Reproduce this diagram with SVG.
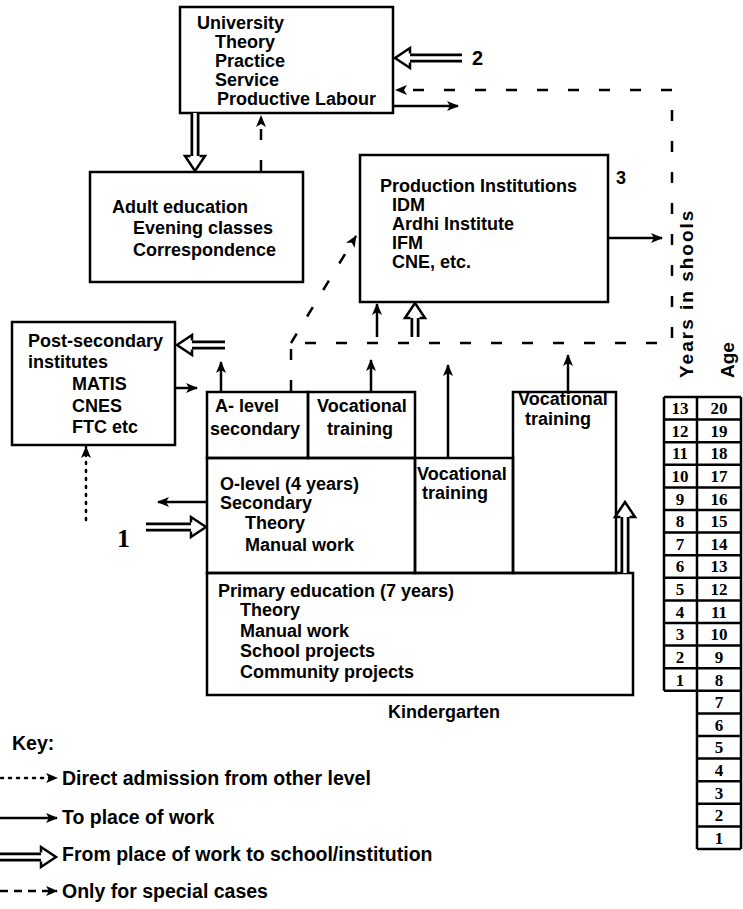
<svg xmlns="http://www.w3.org/2000/svg" xmlns:xlink="http://www.w3.org/1999/xlink" width="743" height="909" viewBox="0 0 743 909">
<style>
.box{fill:none;stroke:#000;stroke-width:2.5}
.t{font-family:"Liberation Sans",Arial,sans-serif;font-weight:bold;font-size:18px;fill:#000}
.k{font-size:19.5px}
.num{font-family:"Liberation Serif","Times New Roman",serif;font-weight:bold;font-size:17px;text-anchor:middle;fill:#000}
.ln{fill:none;stroke:#000;stroke-width:2.5}
.ar{marker-end:url(#ah)}
.dash{stroke-dasharray:11 20}
.dot{stroke-dasharray:2 6;stroke-linecap:round}
.dbo{fill:none;stroke:#000;stroke-width:9}
.dbi{fill:none;stroke:#fff;stroke-width:3.5}
.dh{fill:#fff;stroke:#000;stroke-width:2.5;stroke-linejoin:miter}
.tb{fill:none;stroke:#000;stroke-width:2.5}
</style>
<defs>
<marker id="ah" viewBox="0 0 12 10" refX="11" refY="5" markerWidth="12" markerHeight="10" markerUnits="userSpaceOnUse" orient="auto">
<path d="M0,0 L12,5 L0,10 L3,5 z" fill="#000"/>
</marker>
<path id="dh" class="dh" d="M0,-4.5 L0,-10 L15,0 L0,10 L0,4.5"/>
</defs>
<rect width="743" height="909" fill="#fff"/>

<g id="university">
<rect class="box" x="180" y="7" width="213" height="106"/>
<text class="t" x="197" y="29">University</text>
<text class="t" x="215" y="48">Theory</text>
<text class="t" x="215" y="67">Practice</text>
<text class="t" x="215" y="86">Service</text>
<text class="t" x="217" y="105">Productive Labour</text>
</g>

<g id="adult-education">
<rect class="box" x="90" y="172" width="213" height="110"/>
<text class="t" x="112" y="213">Adult education</text>
<text class="t" x="133" y="234">Evening classes</text>
<text class="t" x="133" y="256">Correspondence</text>
</g>

<g id="production-institutions">
<rect class="box" x="360" y="155" width="248" height="147"/>
<text class="t" x="380" y="192">Production Institutions</text>
<text class="t" x="392" y="211">IDM</text>
<text class="t" x="392" y="230">Ardhi Institute</text>
<text class="t" x="392" y="249">IFM</text>
<text class="t" x="392" y="268">CNE, etc.</text>
</g>

<g id="post-secondary">
<rect class="box" x="12" y="322" width="163" height="123"/>
<text class="t" x="28" y="347">Post-secondary</text>
<text class="t" x="28" y="368">institutes</text>
<text class="t" x="72" y="390">MATIS</text>
<text class="t" x="72" y="412">CNES</text>
<text class="t" x="72" y="433">FTC  etc</text>
</g>

<g id="a-level">
<rect class="box" x="207" y="392" width="101" height="66"/>
<text class="t" x="215" y="412">A- level</text>
<text class="t" x="210" y="435">secondary</text>
</g>
<g id="vocational-1">
<rect class="box" x="308" y="392" width="107" height="66"/>
<text class="t" x="317" y="412">Vocational</text>
<text class="t" x="327" y="435">training</text>
</g>
<g id="o-level">
<rect class="box" x="207" y="458" width="208" height="115"/>
<text class="t" x="220" y="490">O-level (4 years)</text>
<text class="t" x="220" y="509">Secondary</text>
<text class="t" x="245" y="529">Theory</text>
<text class="t" x="245" y="551">Manual work</text>
</g>
<g id="vocational-2">
<rect class="box" x="415" y="458" width="98" height="115"/>
<text class="t" x="417" y="480">Vocational</text>
<text class="t" x="422" y="499">training</text>
</g>
<g id="vocational-3">
<rect class="box" x="513" y="392" width="103" height="181"/>
<text class="t" x="518" y="405">Vocational</text>
<text class="t" x="525" y="425">training</text>
</g>
<g id="primary">
<rect class="box" x="207" y="573" width="426" height="122"/>
<text class="t" x="218" y="597">Primary education (7 years)</text>
<text class="t" x="240" y="616">Theory</text>
<text class="t" x="240" y="637">Manual work</text>
<text class="t" x="240" y="657">School projects</text>
<text class="t" x="240" y="678">Community projects</text>
</g>
<g id="kindergarten">
<text class="t" x="444" y="718" text-anchor="middle">Kindergarten</text>
</g>

<g id="labels">
<text class="t" x="472" y="65" style="font-size:20px">2</text>
<text class="t" x="616" y="184">3</text>
<text x="117" y="547" style="font-family:'Liberation Serif','Times New Roman',serif;font-weight:bold;font-size:26px">1</text>
</g>

<g id="connectors">
<!-- solid: to place of work -->
<path class="ln ar" d="M394,106 H458"/>
<path class="ln ar" d="M609,238 H662"/>
<path class="ln ar" d="M377,337 V304"/>
<path class="ln ar" d="M221,391 V362"/>
<path class="ln ar" d="M371,391 V360"/>
<path class="ln ar" d="M448,457 V365"/>
<path class="ln ar" d="M568,391 V355"/>
<path class="ln ar" d="M176,388 H197"/>
<path class="ln ar" d="M206,502 H158"/>
<!-- dashed: special cases -->
<path class="ln dash ar" d="M261,171 V116"/>
<path class="ln dash ar" d="M291,391 V343 H672 V90 H396"/>
<path class="ln dash ar" d="M291,343 L356,236"/>
<!-- dotted: direct admission -->
<path class="ln dot ar" d="M86,520 V447"/>
<!-- double: from place of work -->
<path class="dbo" d="M462,58 H408"/><path class="dbi" d="M463,58 H408"/><use xlink:href="#dh" transform="translate(410,58) rotate(180)"/>
<path class="dbo" d="M195,114 V158"/><path class="dbi" d="M195,113 V158"/><use xlink:href="#dh" transform="translate(195,156) rotate(90)"/>
<path class="dbo" d="M225,345 H190"/><path class="dbi" d="M226,345 H190"/><use xlink:href="#dh" transform="translate(192,345) rotate(180)"/>
<path class="dbo" d="M415,337 V316"/><path class="dbi" d="M415,338 V316"/><use xlink:href="#dh" transform="translate(415,318) rotate(-90)"/>
<path class="dbo" d="M146,527 H193"/><path class="dbi" d="M145,527 H193"/><use xlink:href="#dh" transform="translate(191,527) rotate(0)"/>
<path class="dbo" d="M625,572 V515"/><path class="dbi" d="M625,573 V515"/><use xlink:href="#dh" transform="translate(625,517) rotate(-90)"/>
</g>

<g id="age-table">
<text class="t" transform="translate(693,378) rotate(-90)" style="font-size:19px;letter-spacing:2px">Years in shools</text>
<text class="t" transform="translate(734,378) rotate(-90)" style="font-size:19px">Age</text>
<path class="tb" d="M664,397 V690.8 M697,397 V849 M741,397 V849"/>
<path class="tb" d="M664,397 H741 M664,419.6 H741 M664,442.2 H741 M664,464.8 H741 M664,487.4 H741 M664,510 H741 M664,532.6 H741 M664,555.2 H741 M664,577.8 H741 M664,600.4 H741 M664,623 H741 M664,645.6 H741 M664,668.2 H741 M664,690.8 H741 M697,713.4 H741 M697,736 H741 M697,758.6 H741 M697,781.2 H741 M697,803.8 H741 M697,826.4 H741 M697,849 H741"/>
<g class="num">
<text class="num" x="680" y="414">13</text><text class="num" x="719" y="414">20</text>
<text class="num" x="680" y="437">12</text><text class="num" x="719" y="437">19</text>
<text class="num" x="680" y="459">11</text><text class="num" x="719" y="459">18</text>
<text class="num" x="680" y="482">10</text><text class="num" x="719" y="482">17</text>
<text class="num" x="680" y="505">9</text><text class="num" x="719" y="505">16</text>
<text class="num" x="680" y="527">8</text><text class="num" x="719" y="527">15</text>
<text class="num" x="680" y="550">7</text><text class="num" x="719" y="550">14</text>
<text class="num" x="680" y="572">6</text><text class="num" x="719" y="572">13</text>
<text class="num" x="680" y="595">5</text><text class="num" x="719" y="595">12</text>
<text class="num" x="680" y="618">4</text><text class="num" x="719" y="618">11</text>
<text class="num" x="680" y="640">3</text><text class="num" x="719" y="640">10</text>
<text class="num" x="680" y="663">2</text><text class="num" x="719" y="663">9</text>
<text class="num" x="680" y="686">1</text><text class="num" x="719" y="686">8</text>
<text class="num" x="719" y="708">7</text>
<text class="num" x="719" y="731">6</text>
<text class="num" x="719" y="753">5</text>
<text class="num" x="719" y="776">4</text>
<text class="num" x="719" y="799">3</text>
<text class="num" x="719" y="821">2</text>
<text class="num" x="719" y="844">1</text>
</g>
</g>

<g id="key">
<text class="t k" x="12" y="750">Key:</text>
<path class="ln dot ar" d="M1,778 H57"/>
<text class="t k" x="62" y="785">Direct admission from other level</text>
<path class="ln ar" d="M0,818 H57"/>
<text class="t k" x="62" y="824">To place of work</text>
<path class="dbo" d="M0,857 H43"/><path class="dbi" d="M-1,857 H43"/><use xlink:href="#dh" transform="translate(41,857)"/>
<text class="t k" x="62" y="861">From place of work to school/institution</text>
<path class="ln dash ar" d="M0,891 H57" style="stroke-dasharray:8 6"/>
<text class="t k" x="62" y="898">Only for special cases</text>
</g>
</svg>
